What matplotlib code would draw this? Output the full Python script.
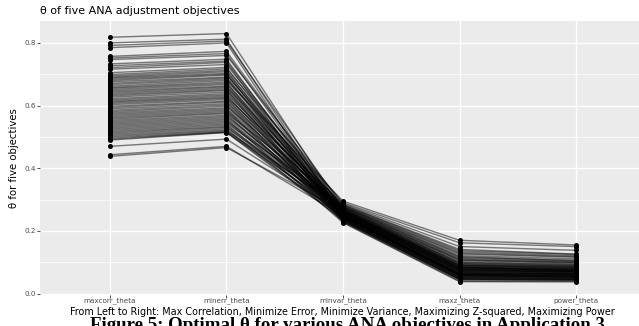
import numpy as np
import matplotlib
matplotlib.use('Agg')
import matplotlib.pyplot as plt


categories = ['maxcorr_theta', 'minerr_theta', 'minvar_theta', 'maxz_theta', 'power_theta']

maxcorr = [0.818, 0.800, 0.792, 0.785, 0.757, 0.752, 0.747, 0.733, 0.727, 0.721,
           0.716, 0.705, 0.699, 0.695, 0.691, 0.688, 0.684, 0.680, 0.676, 0.671,
           0.667, 0.662, 0.658, 0.655, 0.651, 0.647, 0.643, 0.639, 0.635, 0.631,
           0.627, 0.622, 0.618, 0.614, 0.611, 0.607, 0.603, 0.598, 0.594, 0.590,
           0.585, 0.581, 0.577, 0.573, 0.569, 0.565, 0.561, 0.557, 0.553, 0.549,
           0.545, 0.541, 0.537, 0.533, 0.529, 0.525, 0.521, 0.517, 0.513, 0.509,
           0.505, 0.501, 0.497, 0.493, 0.490, 0.470, 0.443, 0.438]
minerr = [0.830, 0.812, 0.806, 0.800, 0.773, 0.766, 0.760, 0.748, 0.742, 0.738,
          0.731, 0.722, 0.717, 0.712, 0.708, 0.703, 0.700, 0.697, 0.691, 0.688,
          0.684, 0.680, 0.675, 0.671, 0.667, 0.662, 0.659, 0.655, 0.651, 0.648,
          0.643, 0.638, 0.634, 0.630, 0.626, 0.623, 0.619, 0.614, 0.611, 0.606,
          0.602, 0.598, 0.593, 0.589, 0.585, 0.581, 0.577, 0.574, 0.569, 0.565,
          0.561, 0.557, 0.553, 0.549, 0.545, 0.541, 0.537, 0.533, 0.530, 0.526,
          0.522, 0.519, 0.516, 0.515, 0.514, 0.493, 0.470, 0.466]
minvar = [0.262, 0.248, 0.275, 0.238, 0.269, 0.255, 0.284, 0.243, 0.261, 0.231,
          0.272, 0.252, 0.290, 0.246, 0.266, 0.236, 0.258, 0.278, 0.241, 0.263,
          0.250, 0.295, 0.233, 0.268, 0.253, 0.244, 0.281, 0.259, 0.228, 0.265,
          0.249, 0.273, 0.239, 0.257, 0.287, 0.245, 0.262, 0.234, 0.270, 0.251,
          0.242, 0.277, 0.256, 0.230, 0.264, 0.247, 0.283, 0.237, 0.260, 0.271,
          0.249, 0.226, 0.266, 0.254, 0.279, 0.240, 0.258, 0.245, 0.268, 0.232,
          0.252, 0.276, 0.243, 0.261, 0.236, 0.255, 0.248, 0.264]
maxz = [0.085, 0.062, 0.118, 0.052, 0.097, 0.071, 0.141, 0.058, 0.083, 0.046,
        0.109, 0.075, 0.162, 0.064, 0.091, 0.050, 0.079, 0.126, 0.057, 0.088,
        0.068, 0.170, 0.048, 0.101, 0.072, 0.060, 0.133, 0.081, 0.040, 0.093,
        0.066, 0.112, 0.055, 0.077, 0.150, 0.062, 0.086, 0.047, 0.105, 0.070,
        0.059, 0.121, 0.078, 0.044, 0.090, 0.065, 0.137, 0.053, 0.082, 0.107,
        0.067, 0.038, 0.095, 0.073, 0.129, 0.056, 0.080, 0.061, 0.099, 0.045,
        0.074, 0.115, 0.058, 0.084, 0.051, 0.076, 0.063, 0.089]
power = [0.072, 0.058, 0.104, 0.049, 0.090, 0.066, 0.126, 0.052, 0.079, 0.044,
         0.100, 0.070, 0.150, 0.061, 0.085, 0.047, 0.073, 0.116, 0.055, 0.081,
         0.064, 0.155, 0.045, 0.094, 0.068, 0.056, 0.121, 0.076, 0.039, 0.087,
         0.063, 0.103, 0.052, 0.071, 0.138, 0.059, 0.080, 0.046, 0.097, 0.066,
         0.054, 0.111, 0.074, 0.042, 0.084, 0.062, 0.125, 0.050, 0.077, 0.099,
         0.063, 0.037, 0.088, 0.069, 0.118, 0.053, 0.075, 0.058, 0.092, 0.043,
         0.070, 0.107, 0.055, 0.078, 0.048, 0.071, 0.060, 0.083]

theta = np.array([maxcorr, minerr, minvar, maxz, power])
x = np.arange(1, len(categories) + 1)

fig = plt.figure(figsize=(6.39, 3.26), dpi=100)
ax = fig.add_axes([40 / 639, 1 - 294.5 / 326, 606 / 639, 273.5 / 326])
ax.set_facecolor('#EBEBEB')
for s in ax.spines.values():
    s.set_visible(False)

ax.set_yticks([0.1, 0.3, 0.5, 0.7], minor=True)
ax.grid(which='major', color='white', linewidth=1.0)
ax.grid(which='minor', axis='y', color='white', linewidth=0.5)
ax.set_axisbelow(True)

for i in range(theta.shape[1]):
    ax.plot(x, theta[:, i], color='black', alpha=0.5, linewidth=1.0, zorder=2)
for j in range(len(categories)):
    ax.scatter(np.full(theta.shape[1], x[j]), theta[j], s=13, color='black', zorder=3, linewidths=0)

ax.set_xlim(0.4, 5.6)
ax.set_ylim(-0.003, 0.87)
ax.set_xticks(x)
ax.set_xticklabels(categories)
ax.set_yticks([0.0, 0.2, 0.4, 0.6, 0.8])
ax.set_yticklabels(['0.0', '0.2', '0.4', '0.6', '0.8'])
ax.tick_params(axis='both', which='major', length=2, width=0.6, color='#333333',
               labelcolor='#4D4D4D', labelsize=5.2, pad=0.8)
ax.tick_params(axis='x', which='major', pad=0.3)
ax.tick_params(axis='y', which='minor', length=0)

ax.set_ylabel('θ for five objectives', fontsize=7.3, labelpad=4)
fig.text(342 / 639, 1 - 312 / 326,
         'From Left to Right: Max Correlation, Minimize Error, Minimize Variance, '
         'Maximizing Z-squared, Maximizing Power', fontsize=6.95, ha='center', va='center')
fig.text(40 / 639, 1 - 11 / 326, 'θ of five ANA adjustment objectives', fontsize=8.0,
         ha='left', va='center')

fig.text(347 / 639, 1 - 330 / 326, 'Figure 5: Optimal θ for various ANA objectives in Application 3',
         fontsize=13.6, fontweight='bold', family='Liberation Serif', ha='center', va='baseline')

fig.savefig('out.png', dpi=100)
